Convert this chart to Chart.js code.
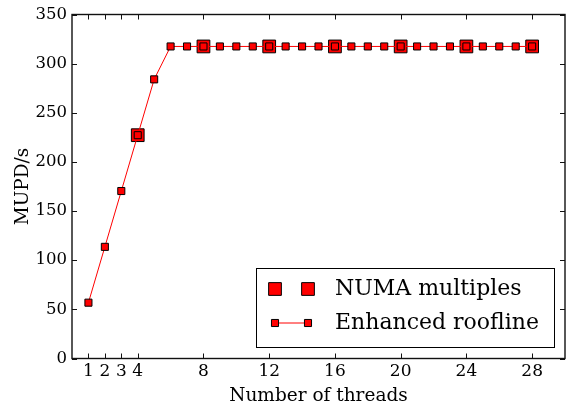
<!DOCTYPE html>
<html>
<head>
<meta charset="utf-8">
<script src="https://cdn.jsdelivr.net/npm/chart.js@4/dist/chart.umd.min.js"></script>
<style>
  html, body { margin: 0; padding: 0; background: #fff; }
  #wrap { width: 567px; height: 410px; }
</style>
</head>
<body>
<div id="wrap"><canvas id="chart" width="567" height="410"></canvas></div>
<script>
// thread counts and measured throughput (MUPD/s)
var threads = [1, 2, 3, 4, 5, 6, 7, 8, 9, 10, 11, 12, 13, 14, 15, 16, 17, 18, 19, 20, 21, 22, 23, 24, 25, 26, 27, 28];
var roofline = [56.8, 113.6, 170.4, 227.2, 284.0, 317.5, 317.5, 317.5, 317.5, 317.5, 317.5, 317.5, 317.5, 317.5,
                317.5, 317.5, 317.5, 317.5, 317.5, 317.5, 317.5, 317.5, 317.5, 317.5, 317.5, 317.5, 317.5, 317.5];
var numaThreads = [4, 8, 12, 16, 20, 24, 28];
var numaValues = [227.2, 317.5, 317.5, 317.5, 317.5, 317.5, 317.5];
var xTicks = [1, 2, 3, 4, 8, 12, 16, 20, 24, 28];
var yTicks = [0, 50, 100, 150, 200, 250, 300, 350];
var seriesNames = ['NUMA multiples', 'Enhanced roofline'];

var serif = 'DejaVu Serif';
var smallR = 5, bigR = 9;

function toPoints(xs, ys) {
  return xs.map(function(x, i){ return { x: x, y: ys[i] }; });
}

// inward tick marks on all four sides plus the closed frame
var frameTicks = {
  id: 'frameTicks',
  afterDatasetsDraw: function(chart) {
    var ctx = chart.ctx, a = chart.chartArea;
    var xs = chart.scales.x, ys = chart.scales.y;
    var len = 5;
    ctx.save();
    ctx.strokeStyle = '#111';
    ctx.lineWidth = 1;
    ctx.beginPath();
    xs.ticks.forEach(function(t){
      var px = Math.round(xs.getPixelForValue(t.value)) + 0.5;
      ctx.moveTo(px, a.bottom); ctx.lineTo(px, a.bottom - len);
      ctx.moveTo(px, a.top); ctx.lineTo(px, a.top + len);
    });
    ys.ticks.forEach(function(t){
      var py = Math.round(ys.getPixelForValue(t.value)) + 0.5;
      ctx.moveTo(a.left, py); ctx.lineTo(a.left + len, py);
      ctx.moveTo(a.right, py); ctx.lineTo(a.right - len, py);
    });
    ctx.stroke();
    ctx.lineWidth = 1.4;
    ctx.strokeStyle = '#111';
    ctx.strokeRect(a.left, a.top, a.right - a.left, a.bottom - a.top);
    ctx.restore();
  }
};

function square(ctx, x, y, r) {
  var s = r * Math.SQRT2;
  ctx.beginPath();
  ctx.rect(x - s / 2, y - s / 2, s, s);
  ctx.fillStyle = '#ff0000';
  ctx.fill();
  ctx.lineWidth = 1;
  ctx.strokeStyle = '#000';
  ctx.stroke();
}

// legend with two markers per entry, lower right of the plot
var pairLegend = {
  id: 'pairLegend',
  afterDraw: function(chart) {
    var ctx = chart.ctx, a = chart.chartArea;
    var bx = Math.round(a.right - 309), by = Math.round(a.bottom - 91), bw = 298, bh = 79;
    ctx.save();
    ctx.fillStyle = '#fff';
    ctx.fillRect(bx, by, bw, bh);
    ctx.lineWidth = 1;
    ctx.strokeStyle = '#000';
    ctx.strokeRect(bx + 0.5, by + 0.5, bw, bh);

    var m1 = bx + 19, m2 = bx + 52, tx = bx + 79;
    var r1 = by + 21, r2 = by + 55;
    square(ctx, m1, r1, bigR);
    square(ctx, m2, r1, bigR);

    ctx.beginPath();
    ctx.moveTo(m1, r2); ctx.lineTo(m2, r2);
    ctx.strokeStyle = '#ff0000';
    ctx.lineWidth = 1;
    ctx.stroke();
    square(ctx, m1, r2, smallR);
    square(ctx, m2, r2, smallR);

    ctx.fillStyle = '#000';
    ctx.font = '22px "' + serif + '"';
    ctx.textBaseline = 'middle';
    ctx.textAlign = 'left';
    ctx.fillText(seriesNames[0], tx, r1);
    ctx.fillText(seriesNames[1], tx, r2);
    ctx.restore();
  }
};

new Chart(document.getElementById('chart'), {
  type: 'scatter',
  data: {
    datasets: [{
      label: seriesNames[1],
      data: toPoints(threads, roofline),
      showLine: true,
      borderColor: '#ff0000',
      borderWidth: 1,
      pointStyle: 'rect',
      pointRadius: smallR,
      pointBackgroundColor: '#ff0000',
      pointBorderColor: '#000',
      pointBorderWidth: 1
    }, {
      label: seriesNames[0],
      data: toPoints(numaThreads, numaValues),
      showLine: false,
      pointStyle: 'rect',
      pointRadius: bigR,
      backgroundColor: '#ff0000',
      borderColor: '#000',
      borderWidth: 1
    }]
  },
  options: {
    responsive: false,
    animation: false,
    devicePixelRatio: 1,
    layout: { autoPadding: false, padding: { top: 14.5, right: 2, left: 0, bottom: 0 } },
    plugins: {
      legend: { display: false },
      tooltip: { enabled: false }
    },
    scales: {
      x: {
        type: 'linear',
        min: 0,
        max: 30,
        grid: { display: false, drawTicks: false },
        border: { display: false },
        afterBuildTicks: function(scale){
          scale.ticks = xTicks.map(function(v){ return { value: v }; });
        },
        afterFit: function(scale){
          scale.height = 51.5;
          scale.paddingLeft = 0;
          scale.paddingRight = 0;
        },
        ticks: {
          color: '#000',
          font: { family: serif, size: 17 },
          padding: 3,
          maxRotation: 0,
          autoSkip: false
        },
        title: {
          display: true,
          text: 'Number of threads',
          color: '#000',
          font: { family: serif, size: 18.5 },
          padding: { bottom: 3, top: 0 }
        }
      },
      y: {
        min: 0,
        max: 350,
        grid: { display: false, drawTicks: false },
        border: { display: false },
        afterBuildTicks: function(scale){
          scale.ticks = yTicks.map(function(v){ return { value: v }; });
        },
        afterFit: function(scale){
          scale.width = 72;
          scale.paddingTop = 0;
          scale.paddingBottom = 0;
        },
        ticks: {
          color: '#000',
          font: { family: serif, size: 16.5 },
          padding: 5
        },
        title: {
          display: true,
          text: 'MUPD/s',
          color: '#000',
          font: { family: serif, size: 18.5 },
          padding: { top: 12, bottom: 0 }
        }
      }
    }
  },
  plugins: [frameTicks, pairLegend]
});
</script>
</body>
</html>
